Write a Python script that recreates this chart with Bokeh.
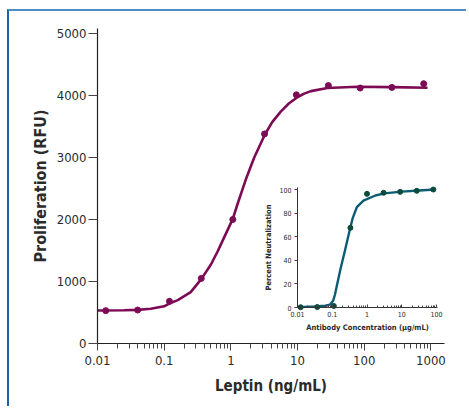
import math
from bokeh.plotting import figure
from bokeh.models import Range1d, LogScale, LogAxis, LinearAxis, FixedTicker
from bokeh.embed import file_html
from bokeh.resources import INLINE

# ---------------- data ----------------
# main panel: Leptin dose response
leptin_conc = [0.0133, 0.040, 0.12, 0.36, 1.07, 3.2, 9.6, 29, 87, 260, 780]
leptin_rfu = [530, 540, 680, 1050, 2000, 3380, 4010, 4160, 4120, 4130, 4190]
leptin_fit_conc = [0.01, 0.025, 0.04, 0.063, 0.1, 0.117, 0.16, 0.25, 0.355, 0.5,
                   0.63, 0.8, 1.07, 1.26, 1.67, 2.24, 3.24, 4.17, 5.6, 7.4,
                   9.6, 12.6, 15.9, 28, 80, 250, 890]
leptin_fit_rfu = [532, 537, 543, 560, 600, 640, 700, 828, 1030, 1270,
                  1480, 1720, 2010, 2250, 2640, 3000, 3370, 3570, 3740, 3870,
                  3960, 4030, 4070, 4120, 4140, 4135, 4125]

# inset: antibody neutralization
ab_conc = [0.0123, 0.037, 0.111, 0.333, 1, 3, 9, 27, 81]
ab_neut = [0.2, 0.4, 1.3, 67.5, 96.3, 97.2, 98.0, 98.9, 100]
ab_fit_conc = [0.01, 0.032, 0.063, 0.087, 0.107, 0.12, 0.136, 0.174, 0.226, 0.33,
               0.39, 0.51, 0.79, 1.74, 3.16, 10, 31.6, 89]
ab_fit_neut = [0.3, 0.8, 1.5, 2.5, 6, 11, 18.6, 33, 46.9, 67.5,
               76, 85, 90.5, 94.9, 96.7, 98.2, 99.2, 100]

# ticks
x_tick_values = [0.01, 0.1, 1, 10, 100, 1000]
x_tick_labels = ["0.01", "0.1", "1", "10", "100", "1000"]
y_tick_values = [0, 1000, 2000, 3000, 4000, 5000]
inset_x_tick_values = [0.01, 0.1, 1, 10, 100]
inset_x_tick_labels = ["0.01", "0.1", "1", "10", "100"]
inset_y_tick_values = [0, 20, 40, 60, 80, 100]

# ---------------- layout constants ----------------
W, H = 459, 397
BL, BR, BT, BB = 88, 24, 17, 65
X_START, X_END = 0.01, 1600
Y_START, Y_END = 0, 5080
frame_w = W - BL - BR
frame_h = H - BT - BB
# inset placement in frame pixels (from frame left / frame bottom)
IN_X0 = 200.0      # px where 0.01 sits
IN_DEC = 34.75     # px per decade
IN_Y0 = 36.0       # px above frame bottom where 0 sits
IN_PPU = 1.18      # px per percent

FONT = "'DejaVu Sans Condensed', 'Liberation Sans Narrow', 'Roboto Condensed', 'Open Sans Condensed', Roboto, sans-serif"
TXT = "#2b2b2b"
MAIN_C = "#7d0a55"
INSET_LINE = "#0d5d72"
INSET_PT = "#0b4b3b"

p = figure(width=W, height=H, x_axis_type="log",
           x_range=Range1d(X_START, X_END), y_range=Range1d(Y_START, Y_END),
           output_backend="svg", toolbar_location=None,
           min_border_left=BL, min_border_right=BR, min_border_top=BT, min_border_bottom=BB)
p.outline_line_color = None
p.xgrid.visible = False
p.ygrid.visible = False
p.background_fill_color = "white"
p.border_fill_color = "white"

# main axes
minor = [m * 10 ** e for e in range(-2, 4) for m in range(2, 10)]
xa = p.xaxis[0]
xa.ticker = FixedTicker(ticks=x_tick_values, minor_ticks=minor)
xa.major_label_overrides = dict(zip(x_tick_values, x_tick_labels))
xa.axis_label = "Leptin (ng/mL)"
ya = p.yaxis[0]
ya.ticker = FixedTicker(ticks=y_tick_values)
ya.axis_label = "Proliferation (RFU)"
for ax in (xa, ya):
    ax.axis_line_color = "#222222"
    ax.axis_line_width = 1.2
    ax.major_tick_line_color = "#444444"
    ax.minor_tick_line_color = "#444444"
    ax.major_tick_in = 0
    ax.minor_tick_in = 0
    ax.major_label_text_font = FONT
    ax.major_label_text_font_size = "13px"
    ax.major_label_text_color = TXT
    ax.axis_label_text_font = FONT
    ax.axis_label_text_font_size = "16px"
    ax.axis_label_text_font_style = "bold"
    ax.axis_label_text_color = TXT
xa.axis_label_text_font_size = "15px"
xa.major_tick_out = 7
xa.minor_tick_out = 5
xa.major_label_standoff = 5
xa.axis_label_standoff = 9
ya.major_tick_out = 9
ya.minor_tick_line_color = None
ya.major_label_standoff = 2
ya.axis_label_standoff = 4

# main data
p.line(leptin_fit_conc, leptin_fit_rfu, line_color=MAIN_C, line_width=2.6)
p.scatter(leptin_conc, leptin_rfu, size=6, fill_color=MAIN_C, line_color=MAIN_C)

# inset ranges mapped onto the full frame
lo = -2 - IN_X0 / IN_DEC
hi = -2 + (frame_w - IN_X0) / IN_DEC
p.extra_x_ranges = {"ix": Range1d(10 ** lo, 10 ** hi)}
p.extra_x_scales = {"ix": LogScale()}
p.extra_y_ranges = {"iy": Range1d(-IN_Y0 / IN_PPU, (frame_h - IN_Y0) / IN_PPU)}

iminor = [m * 10 ** e for e in range(-2, 2) for m in range(2, 10)]
iax = LogAxis(x_range_name="ix", y_range_name="iy", fixed_location=0,
              bounds=(0.01, 107),
              ticker=FixedTicker(ticks=inset_x_tick_values, minor_ticks=iminor),
              axis_label="Antibody Concentration (µg/mL)")
iax.major_label_overrides = dict(zip(inset_x_tick_values, inset_x_tick_labels))
iax.major_tick_in = 3
iax.major_tick_out = 0
iax.minor_tick_in = 2
iax.minor_tick_out = 0
iay = LinearAxis(x_range_name="ix", y_range_name="iy", fixed_location=0.01,
                 bounds=(0, 102),
                 ticker=FixedTicker(ticks=inset_y_tick_values),
                 axis_label="Percent Neutralization")
iay.major_tick_in = 0
iay.major_tick_out = 3
for ax in (iax, iay):
    ax.axis_line_color = "#333333"
    ax.axis_line_width = 1
    ax.major_tick_line_color = "#444444"
    ax.minor_tick_line_color = "#444444" if ax is iax else None
    ax.major_label_text_font = FONT
    ax.major_label_text_font_size = "7px"
    ax.major_label_text_color = TXT
    ax.major_label_standoff = 3
    ax.axis_label_text_font = FONT
    ax.axis_label_text_font_size = "7.5px"
    ax.axis_label_text_font_style = "bold"
    ax.axis_label_text_color = TXT
    ax.axis_label_standoff = 3
p.add_layout(iax, "below")
p.add_layout(iay, "left")

p.line(ab_fit_conc, ab_fit_neut, line_color=INSET_LINE, line_width=2.4,
       x_range_name="ix", y_range_name="iy")
p.scatter(ab_conc, ab_neut, size=5, fill_color=INSET_PT, line_color=INSET_PT,
          x_range_name="ix", y_range_name="iy")

p.styles = {"margin-left": "7px", "margin-top": "9px",
            "border-left": "2px solid #1d5fa9", "border-top": "2px solid #4f8cc6"}

open("out.html", "w").write(file_html(p, INLINE))
